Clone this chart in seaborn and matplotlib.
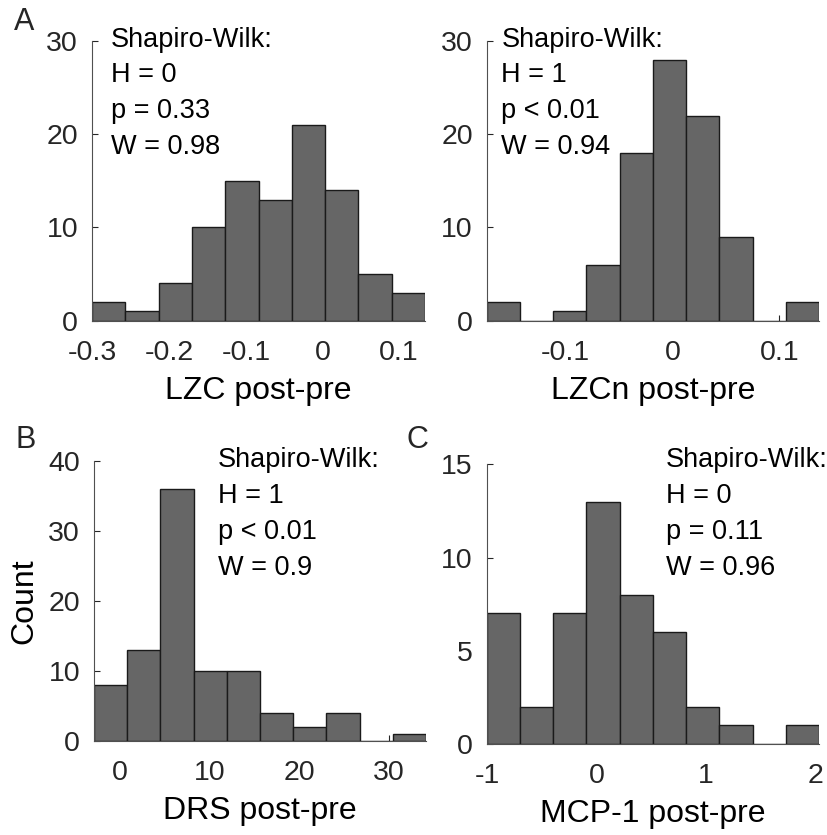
import numpy as np
import pandas as pd
import seaborn as sns
import matplotlib
matplotlib.use('Agg')
import matplotlib.pyplot as plt

# histogram bins (edges) and counts
lzc_edges = [-0.301, -0.2575, -0.214, -0.1705, -0.127, -0.0835, -0.040, 0.0035, 0.047, 0.0905, 0.134]
lzc_counts = [2, 1, 4, 10, 15, 13, 21, 14, 5, 3]
lzc_xticks = [-0.3, -0.2, -0.1, 0, 0.1]
lzc_xlabels = ['-0.3', '-0.2', '-0.1', '0', '0.1']
lzc_yticks = [0, 10, 20, 30]
lzc_stats = ['Shapiro-Wilk:', 'H = 0', 'p = 0.33', 'W = 0.98']

lzcn_edges = [-0.174, -0.1429, -0.1118, -0.0807, -0.0496, -0.0185, 0.0126, 0.0437, 0.0748, 0.1059, 0.137]
lzcn_counts = [2, 0, 1, 6, 18, 28, 22, 9, 0, 2]
lzcn_xticks = [-0.1, 0, 0.1]
lzcn_xlabels = ['-0.1', '0', '0.1']
lzcn_yticks = [0, 10, 20, 30]
lzcn_stats = ['Shapiro-Wilk:', 'H = 1', 'p < 0.01', 'W = 0.94']

drs_edges = [-2.9, 0.8, 4.5, 8.2, 11.9, 15.6, 19.3, 23.0, 26.7, 30.4, 34.1]
drs_counts = [8, 13, 36, 10, 10, 4, 2, 4, 0, 1]
drs_xticks = [0, 10, 20, 30]
drs_xlabels = ['0', '10', '20', '30']
drs_yticks = [0, 10, 20, 30, 40]
drs_stats = ['Shapiro-Wilk:', 'H = 1', 'p < 0.01', 'W = 0.9']

mcp_edges = [-1.01, -0.705, -0.401, -0.096, 0.208, 0.513, 0.818, 1.122, 1.427, 1.731, 2.036]
mcp_counts = [7, 2, 7, 13, 8, 6, 2, 1, 0, 1]
mcp_xticks = [-1, 0, 1, 2]
mcp_xlabels = ['-1', '0', '1', '2']
mcp_yticks = [0, 5, 10, 15]
mcp_stats = ['Shapiro-Wilk:', 'H = 0', 'p = 0.11', 'W = 0.96']

sns.set_style('ticks')
plt.rcParams['font.family'] = ['Liberation Sans', 'DejaVu Sans']
plt.rcParams['axes.unicode_minus'] = False

dark = '#262626'
fig = plt.figure(figsize=(8.28, 8.35), dpi=100)

panels = [
    # axes rect, edges, counts, xticks, xticklabels, yticks, xlabel, stats, text x, first baseline
    ([0.1111, 0.6159, 0.4022, 0.3350], lzc_edges, lzc_counts, lzc_xticks, lzc_xlabels, lzc_yticks,
     'LZC post-pre', lzc_stats, 0.056, 0.980),
    ([0.5878, 0.6159, 0.4013, 0.3350], lzcn_edges, lzcn_counts, lzcn_xticks, lzcn_xlabels, lzcn_yticks,
     'LZCn post-pre', lzcn_stats, 0.044, 0.980),
    ([0.1135, 0.1129, 0.4010, 0.3354], drs_edges, drs_counts, drs_xticks, drs_xlabels, drs_yticks,
     'DRS post-pre', drs_stats, 0.374, 0.976),
    ([0.5878, 0.1090, 0.4013, 0.3349], mcp_edges, mcp_counts, mcp_xticks, mcp_xlabels, mcp_yticks,
     'MCP-1 post-pre', mcp_stats, 0.539, 0.989),
]

axes = []
for rect, edges, counts, xt, xtl, yt, xlab, stats, tx, ty in panels:
    ax = fig.add_axes(rect)
    e = np.array(edges)
    centers = (e[:-1] + e[1:]) / 2
    df = pd.DataFrame({'x': centers, 'n': counts})
    sns.histplot(data=df, x='x', weights='n', bins=edges, ax=ax,
                 color='#666666', edgecolor='#1a1a1a', linewidth=1.0, alpha=1.0)
    ax.set_xlim(edges[0], edges[-1])
    ax.set_ylim(0, yt[-1])
    ax.set_xticks(xt, xtl)
    ax.set_yticks(yt, [str(v) for v in yt])
    ax.tick_params(direction='in', length=4, width=0.8, color=dark,
                   labelsize=20.5, labelcolor=dark)
    ax.tick_params(axis='x', pad=14)
    ax.tick_params(axis='y', pad=10)
    for s in ['top', 'right']:
        ax.spines[s].set_visible(False)
    for s in ['left', 'bottom']:
        ax.spines[s].set_color('#505050')
        ax.spines[s].set_linewidth(0.8)
    ax.set_xlabel(xlab, fontsize=23, color='black', labelpad=7)
    ax.set_ylabel('')
    step = 35.8 / (rect[3] * 835)
    for i, line in enumerate(stats):
        ax.text(tx, ty - i * step, line, transform=ax.transAxes, fontsize=19.5,
                color='black', ha='left', va='baseline', clip_on=False)
    axes.append(ax)

axes[2].set_ylabel('Count', fontsize=23, color='black')
axes[2].yaxis.set_label_coords(-0.165, 0.5)

fig.text(14 / 828, 1 - 30 / 835, 'A', fontsize=22, ha='left', va='baseline')
fig.text(15 / 828, 1 - 448 / 835, 'B', fontsize=22, ha='left', va='baseline')
fig.text(407 / 828, 1 - 448 / 835, 'C', fontsize=22, ha='left', va='baseline')

fig.savefig('out.png', dpi=100)
